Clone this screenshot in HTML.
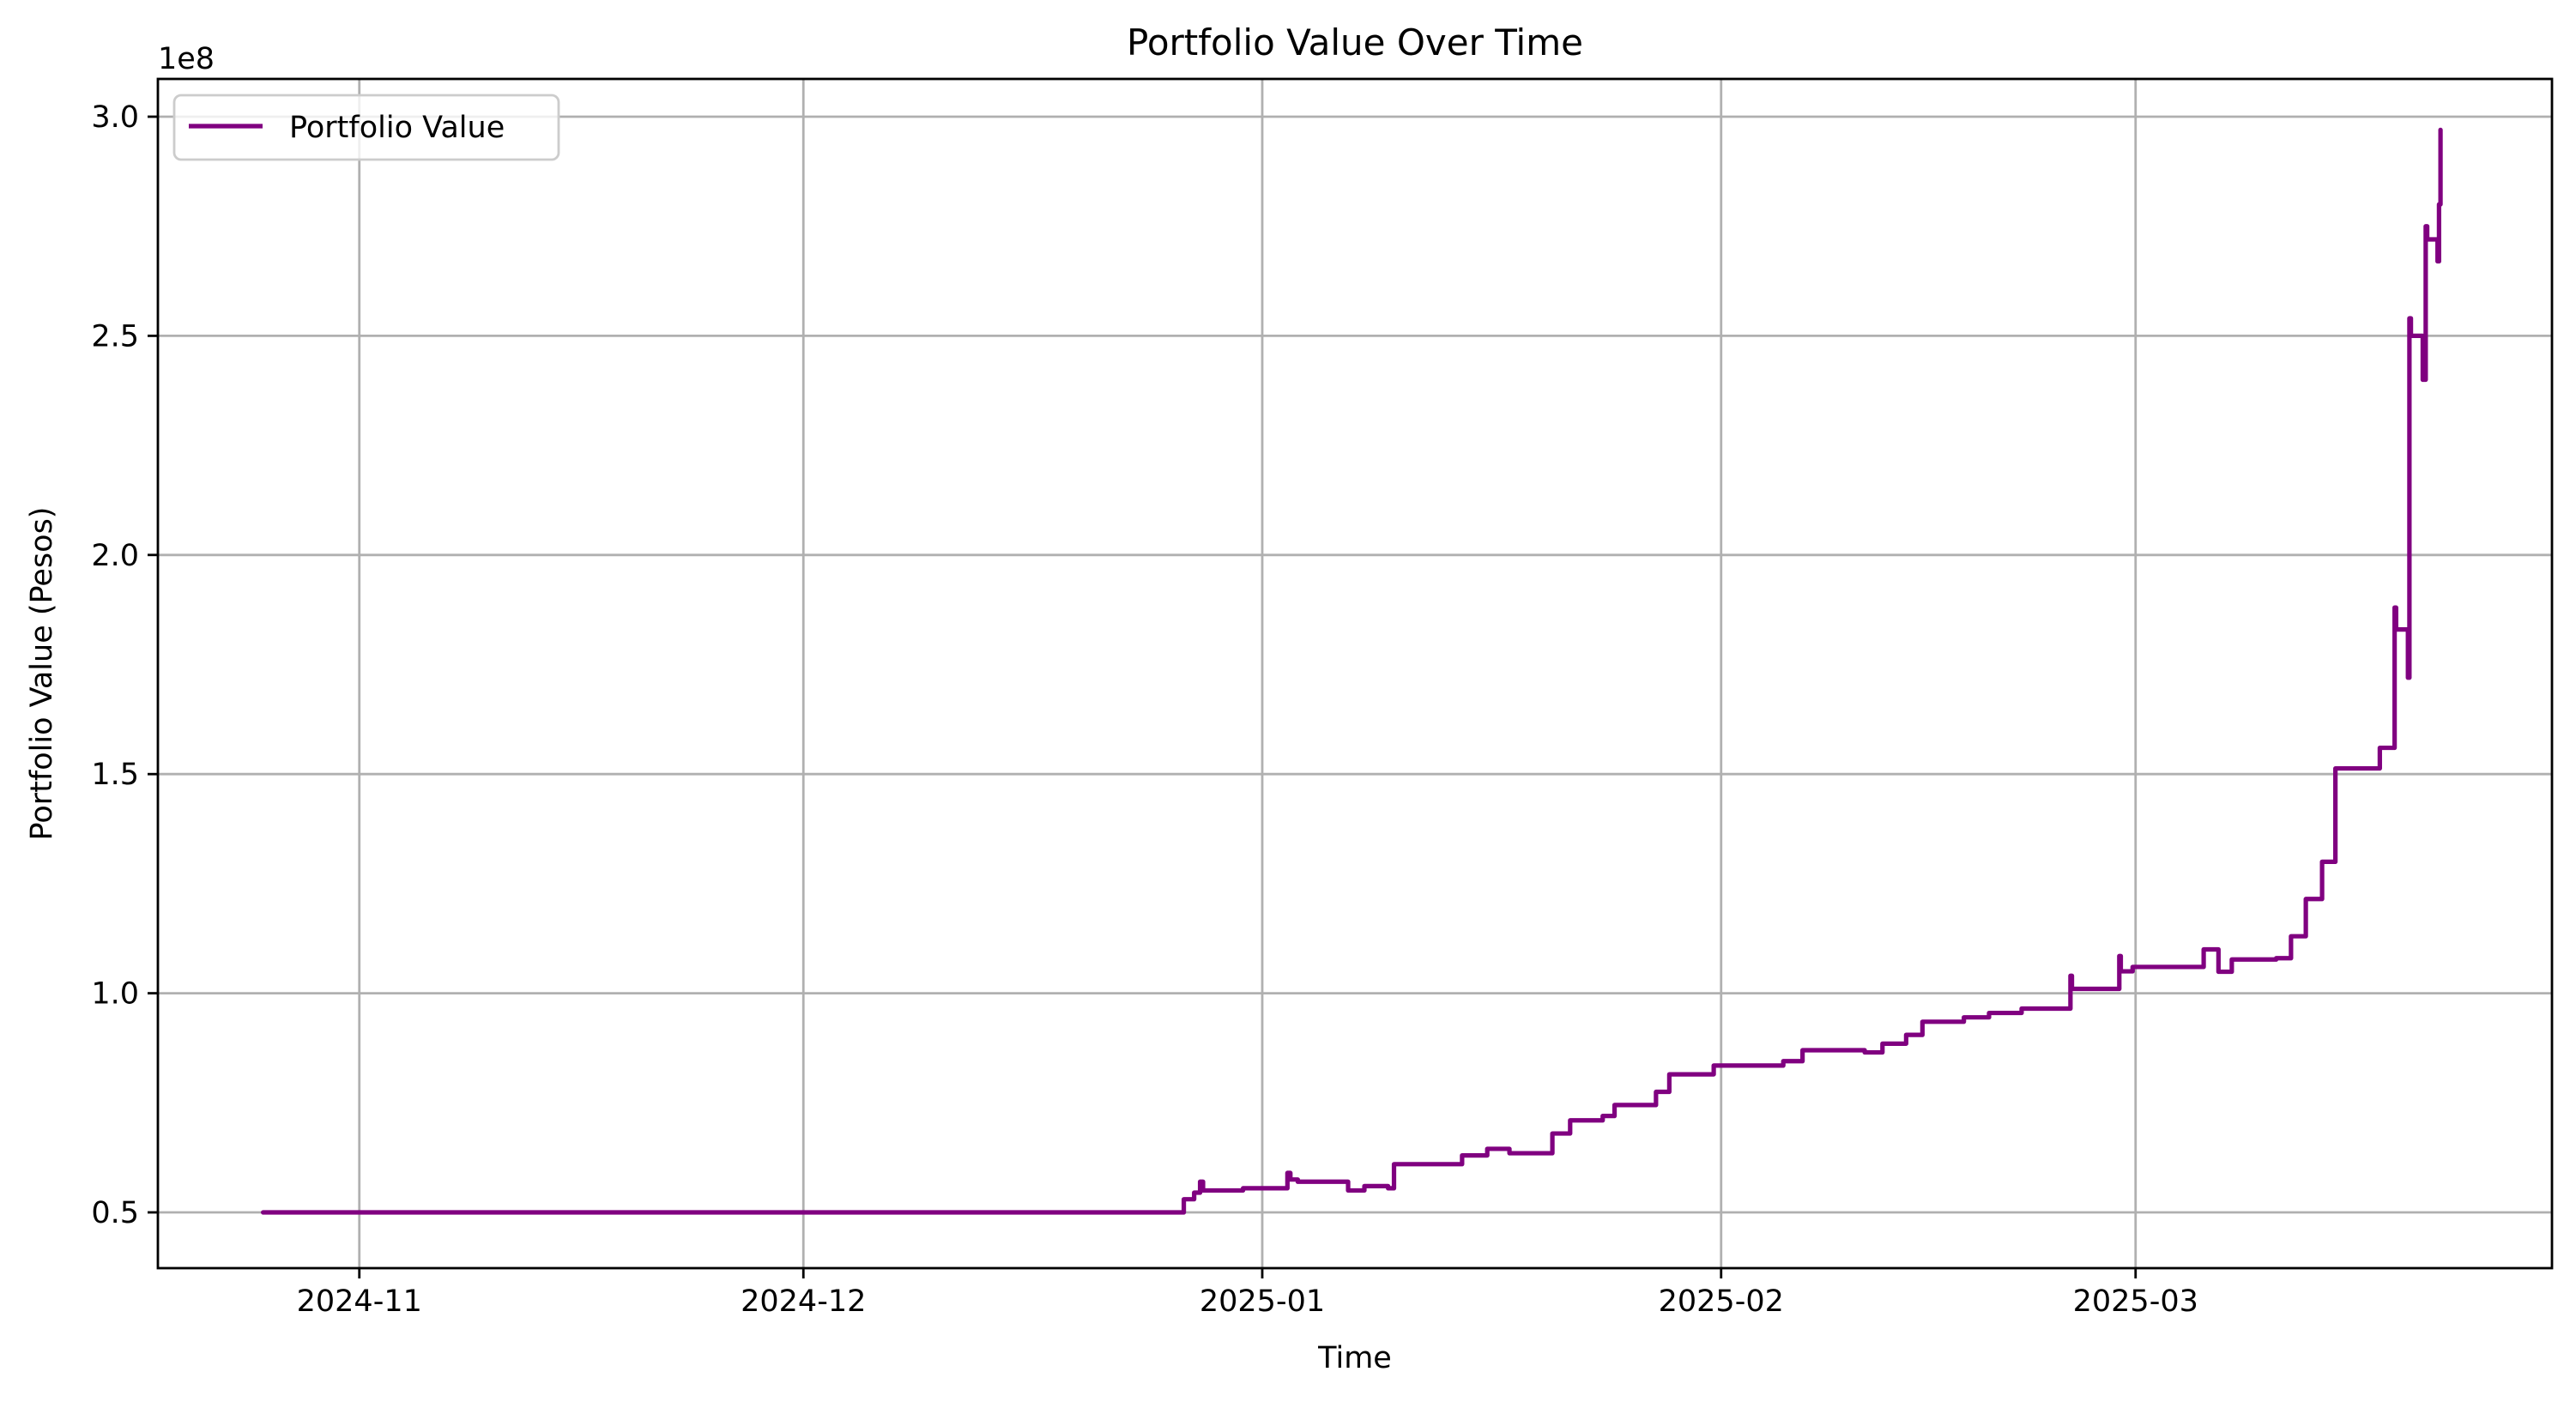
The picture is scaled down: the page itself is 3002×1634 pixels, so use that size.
<!DOCTYPE html>
<html><head><meta charset="utf-8"><style>
html,body{margin:0;padding:0;background:#fff;}
svg{display:block;font-family:"DejaVu Sans","Liberation Sans",sans-serif;}
</style></head><body>
<svg id="chart" width="3002" height="1634" viewBox="0 0 3002 1634" xmlns="http://www.w3.org/2000/svg">
<rect width="3002" height="1634" fill="#fff"/>
<g id="grid"></g>
<g id="series"></g>
<g id="axes"></g>
<text x="1579" y="64" font-size="42" text-anchor="middle">Portfolio Value Over Time</text>
<text x="1579" y="1594" font-size="35" text-anchor="middle">Time</text>
<text transform="translate(60,785) rotate(-90)" font-size="35" text-anchor="middle">Portfolio Value (Pesos)</text>
<text x="184" y="80" font-size="35">1e8</text>
<g>
<rect x="203" y="111" width="448" height="75" rx="8" fill="#fff" fill-opacity="0.8" stroke="#ccc" stroke-width="2.8"/>
<line x1="220" y1="147" x2="306" y2="147" stroke="#800080" stroke-width="5.2"/>
<text x="337" y="160" font-size="35">Portfolio Value</text>
</g>
</svg>
<script>
// days since 2025-01-01, values in 1e8 pesos
const days = [-67.5,-5.3,-4.6,-4.2,-4.0,-1.3,1.7,1.9,2.4,5.8,6.9,8.5,8.9,13.5,15.2,16.7,19.6,20.8,23.0,23.8,26.6,27.5,30.5,35.2,36.5,40.7,41.9,43.5,44.6,47.4,49.1,51.3,54.6,54.7,57.9,58.0,58.8,63.6,64.6,65.5,68.5,69.5,70.5,71.6,72.5,75.5,76.5,76.6,77.4,77.5,77.6,78.4,78.6,78.7,79.4,79.5,79.6];
const values = [0.50,0.53,0.545,0.57,0.55,0.555,0.59,0.575,0.57,0.55,0.56,0.555,0.61,0.63,0.645,0.635,0.68,0.71,0.72,0.745,0.775,0.815,0.835,0.845,0.87,0.865,0.885,0.905,0.935,0.945,0.955,0.965,1.04,1.01,1.085,1.05,1.06,1.10,1.049,1.077,1.08,1.13,1.215,1.30,1.513,1.56,1.88,1.83,1.72,2.54,2.50,2.40,2.75,2.72,2.67,2.80,2.97];
const xTickDays = [-61,-31,0,31,59];
const xTickLabels = ["2024-11","2024-12","2025-01","2025-02","2025-03"];
const yTicks = [0.5,1.0,1.5,2.0,2.5,3.0];
const yTickLabels = ["0.5","1.0","1.5","2.0","2.5","3.0"];

const L=184,R=2974,T=92,B=1478;
const xS = d => 1471 + d*17.25;
const yS = v => 1413 - (v-0.5)*510.8;
const NS="http://www.w3.org/2000/svg";
const grid=document.getElementById('grid'), axes=document.getElementById('axes'), ser=document.getElementById('series');
function mk(tag,attrs,parent){const e=document.createElementNS(NS,tag);for(const k in attrs)e.setAttribute(k,attrs[k]);parent.appendChild(e);return e;}

xTickDays.forEach((d,i)=>{
  const x=xS(d);
  const g=mk('line',{x1:x,x2:x,y1:T,y2:B,stroke:'#b0b0b0','stroke-width':2.8},grid);
  
  
  const t=mk('line',{x1:x,x2:x,y1:B,y2:B+12,stroke:'#000','stroke-width':2.8},axes);
  
  
  const tx=mk('text',{x:x,y:B+50,'font-size':35,'text-anchor':'middle'},axes);
  tx.textContent=xTickLabels[i];
  
  
});
yTicks.forEach((v,i)=>{
  const y=yS(v);
  const g=mk('line',{x1:L,x2:R,y1:y,y2:y,stroke:'#b0b0b0','stroke-width':2.8},grid);
  
  
  const t=mk('line',{x1:L-12,x2:L,y1:y,y2:y,stroke:'#000','stroke-width':2.8},axes);
  
  
  const tx=mk('text',{x:L-22,y:y+12,'font-size':35,'text-anchor':'end'},axes);
  tx.textContent=yTickLabels[i];
  
  
});
const frame=mk('rect',{x:L,y:T,width:R-L,height:B-T,fill:'none',stroke:'#000','stroke-width':2.8},axes);



let p='M'+xS(days[0])+','+yS(values[0]);
for(let i=1;i<days.length;i++){
  p+=' L'+xS(days[i])+','+yS(values[i-1])+' L'+xS(days[i])+','+yS(values[i]);
}
const line=mk('path',{d:p,fill:'none',stroke:'#800080','stroke-width':5.2,'stroke-linejoin':'round','stroke-linecap':'round'},ser);


</script>
</body></html>
